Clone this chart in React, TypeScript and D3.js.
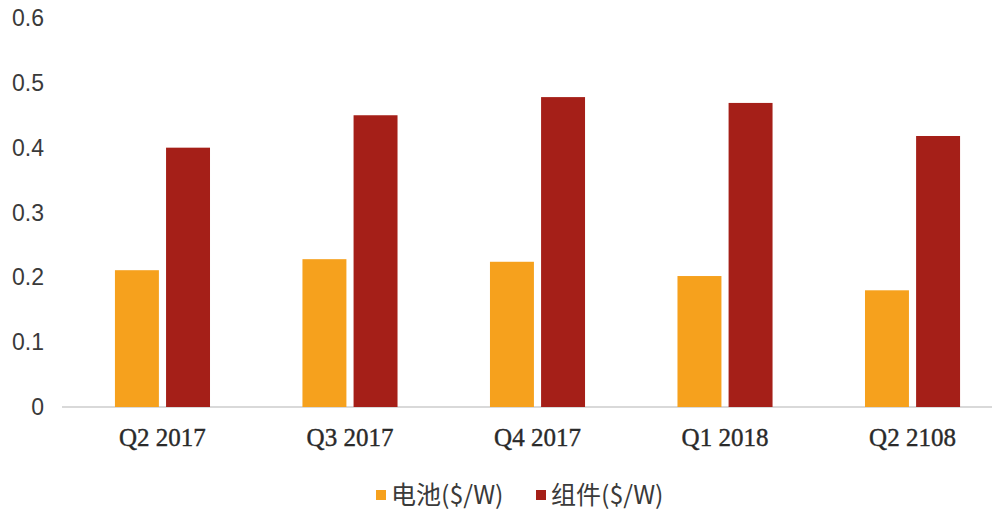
import React from "react";
import * as d3 from "d3";

const categories = ["Q2 2017", "Q3 2017", "Q4 2017", "Q1 2018", "Q2 2108"];
const seriesNames = ["电池($/W)", "组件($/W)"];
const cellValues = [0.211, 0.228, 0.224, 0.202, 0.18];
const moduleValues = [0.4, 0.45, 0.478, 0.469, 0.418];
const yTicks = [0, 0.1, 0.2, 0.3, 0.4, 0.5, 0.6];
const colors = ["#F6A11D", "#A51F18"];

const W = 999;
const H = 514;

export default function App() {
  const x0 = d3
    .scaleBand<string>()
    .domain(categories)
    .range([69, 1006])
    .paddingInner(0.493)
    .paddingOuter(0.245);
  const x1 = d3
    .scaleBand<string>()
    .domain(seriesNames)
    .range([0, x0.bandwidth()])
    .paddingInner(0.14);
  const y = d3.scaleLinear().domain([0, 0.6]).range([407, 18]);
  const series = [cellValues, moduleValues];

  return (
    <svg width={W} height={H} style={{ position: "absolute", left: 0, top: 0, background: "#fff" }}>
      <line x1={62} x2={992} y1={y(0)} y2={y(0)} stroke="#d9d9d9" strokeWidth={2} />
      {yTicks.map((t) => (
        <text
          key={t}
          x={44}
          y={y(t)}
          dy="0.35em"
          textAnchor="end"
          fontFamily="Liberation Sans, Arial, sans-serif"
          fontSize={23}
          fill="#3a3a3a"
        >
          {d3.format("")(t)}
        </text>
      ))}
      {categories.map((c, i) => (
        <g key={c} transform={`translate(${x0(c)},0)`}>
          {series.map((vals, s) => (
            <rect
              key={s}
              x={x1(seriesNames[s])}
              y={y(vals[i])}
              width={x1.bandwidth()}
              height={y(0) - y(vals[i])}
              fill={colors[s]}
            />
          ))}
          <text
            x={x0.bandwidth() / 2}
            y={446}
            textAnchor="middle"
            fontFamily="Liberation Serif, Times New Roman, serif"
            fontSize={25}
            fill="#2a2a2a"
            stroke="#2a2a2a"
            strokeWidth={0.4}
          >
            {c}
          </text>
        </g>
      ))}
      {seriesNames.map((n, s) => {
        const lx = [376, 536][s];
        return (
          <g key={n}>
            <rect x={lx} y={490} width={10} height={10} fill={colors[s]} />
            <text
              x={lx + 15}
              y={495}
              dy="0.36em"
              fontFamily="Noto Sans CJK SC, sans-serif"
              fontSize={25}
              fill="#3a3a3a"
            >
              {n}
            </text>
          </g>
        );
      })}
    </svg>
  );
}
